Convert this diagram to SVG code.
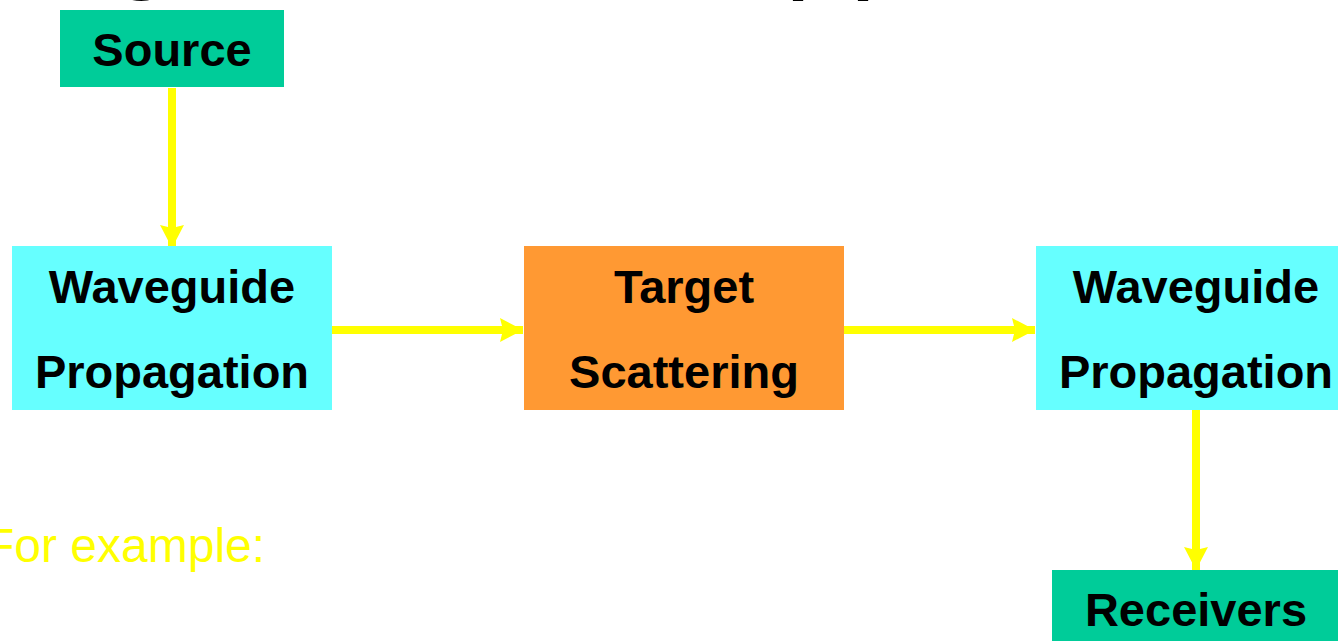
<svg xmlns="http://www.w3.org/2000/svg" width="1338" height="641" viewBox="0 0 1338 641">
  <style>
    .lbl { font-family: "Liberation Sans", Arial, sans-serif; font-weight: bold; font-size: 47px; fill: #000; text-anchor: middle; }
    .title { font-family: "Liberation Sans", Arial, sans-serif; font-size: 117px; fill: #000; }
    .note { font-family: "Liberation Sans", Arial, sans-serif; font-size: 48px; fill: #FFFF00; }
    .conn { stroke: #FFFF00; stroke-width: 8; fill: none; marker-end: url(#arrow); }
  </style>
  <defs>
    <marker id="arrow" markerUnits="userSpaceOnUse" markerWidth="24" markerHeight="24" refX="23" refY="12" orient="auto">
      <path d="M0,0 L23,12 L0,24 L3,12 Z" fill="#FFFF00"/>
    </marker>
  </defs>
  <rect width="1338" height="641" fill="#FFFFFF"/>
  <g id="title-fragment">
    <text class="title" x="110" y="-23">g</text>
    <text class="title" x="785" y="-23">pp</text>
  </g>
  <g id="connectors">
    <path class="conn" d="M172,88 L172,248"/>
    <path class="conn" d="M332,330 L523,330"/>
    <path class="conn" d="M844,330 L1035,330"/>
    <path class="conn" d="M1196,410 L1196,570"/>
  </g>
  <g id="source">
    <rect x="60" y="10" width="224" height="77" fill="#00CC99"/>
    <text class="lbl" x="172" y="66">Source</text>
  </g>
  <g id="waveguide1">
    <rect x="12" y="246" width="320" height="164" fill="#66FFFF"/>
    <text class="lbl" x="172" y="303">Waveguide</text>
    <text class="lbl" x="172" y="388">Propagation</text>
  </g>
  <g id="target">
    <rect x="524" y="246" width="320" height="164" fill="#FF9933"/>
    <text class="lbl" x="684" y="303">Target</text>
    <text class="lbl" x="684" y="388">Scattering</text>
  </g>
  <g id="waveguide2">
    <rect x="1036" y="246" width="320" height="164" fill="#66FFFF"/>
    <text class="lbl" x="1196" y="303">Waveguide</text>
    <text class="lbl" x="1196" y="388">Propagation</text>
  </g>
  <g id="receivers">
    <rect x="1052" y="570" width="288" height="75" fill="#00CC99"/>
    <text class="lbl" x="1196" y="626">Receivers</text>
  </g>
  <text class="note" x="-15" y="562">For example:</text>
</svg>
